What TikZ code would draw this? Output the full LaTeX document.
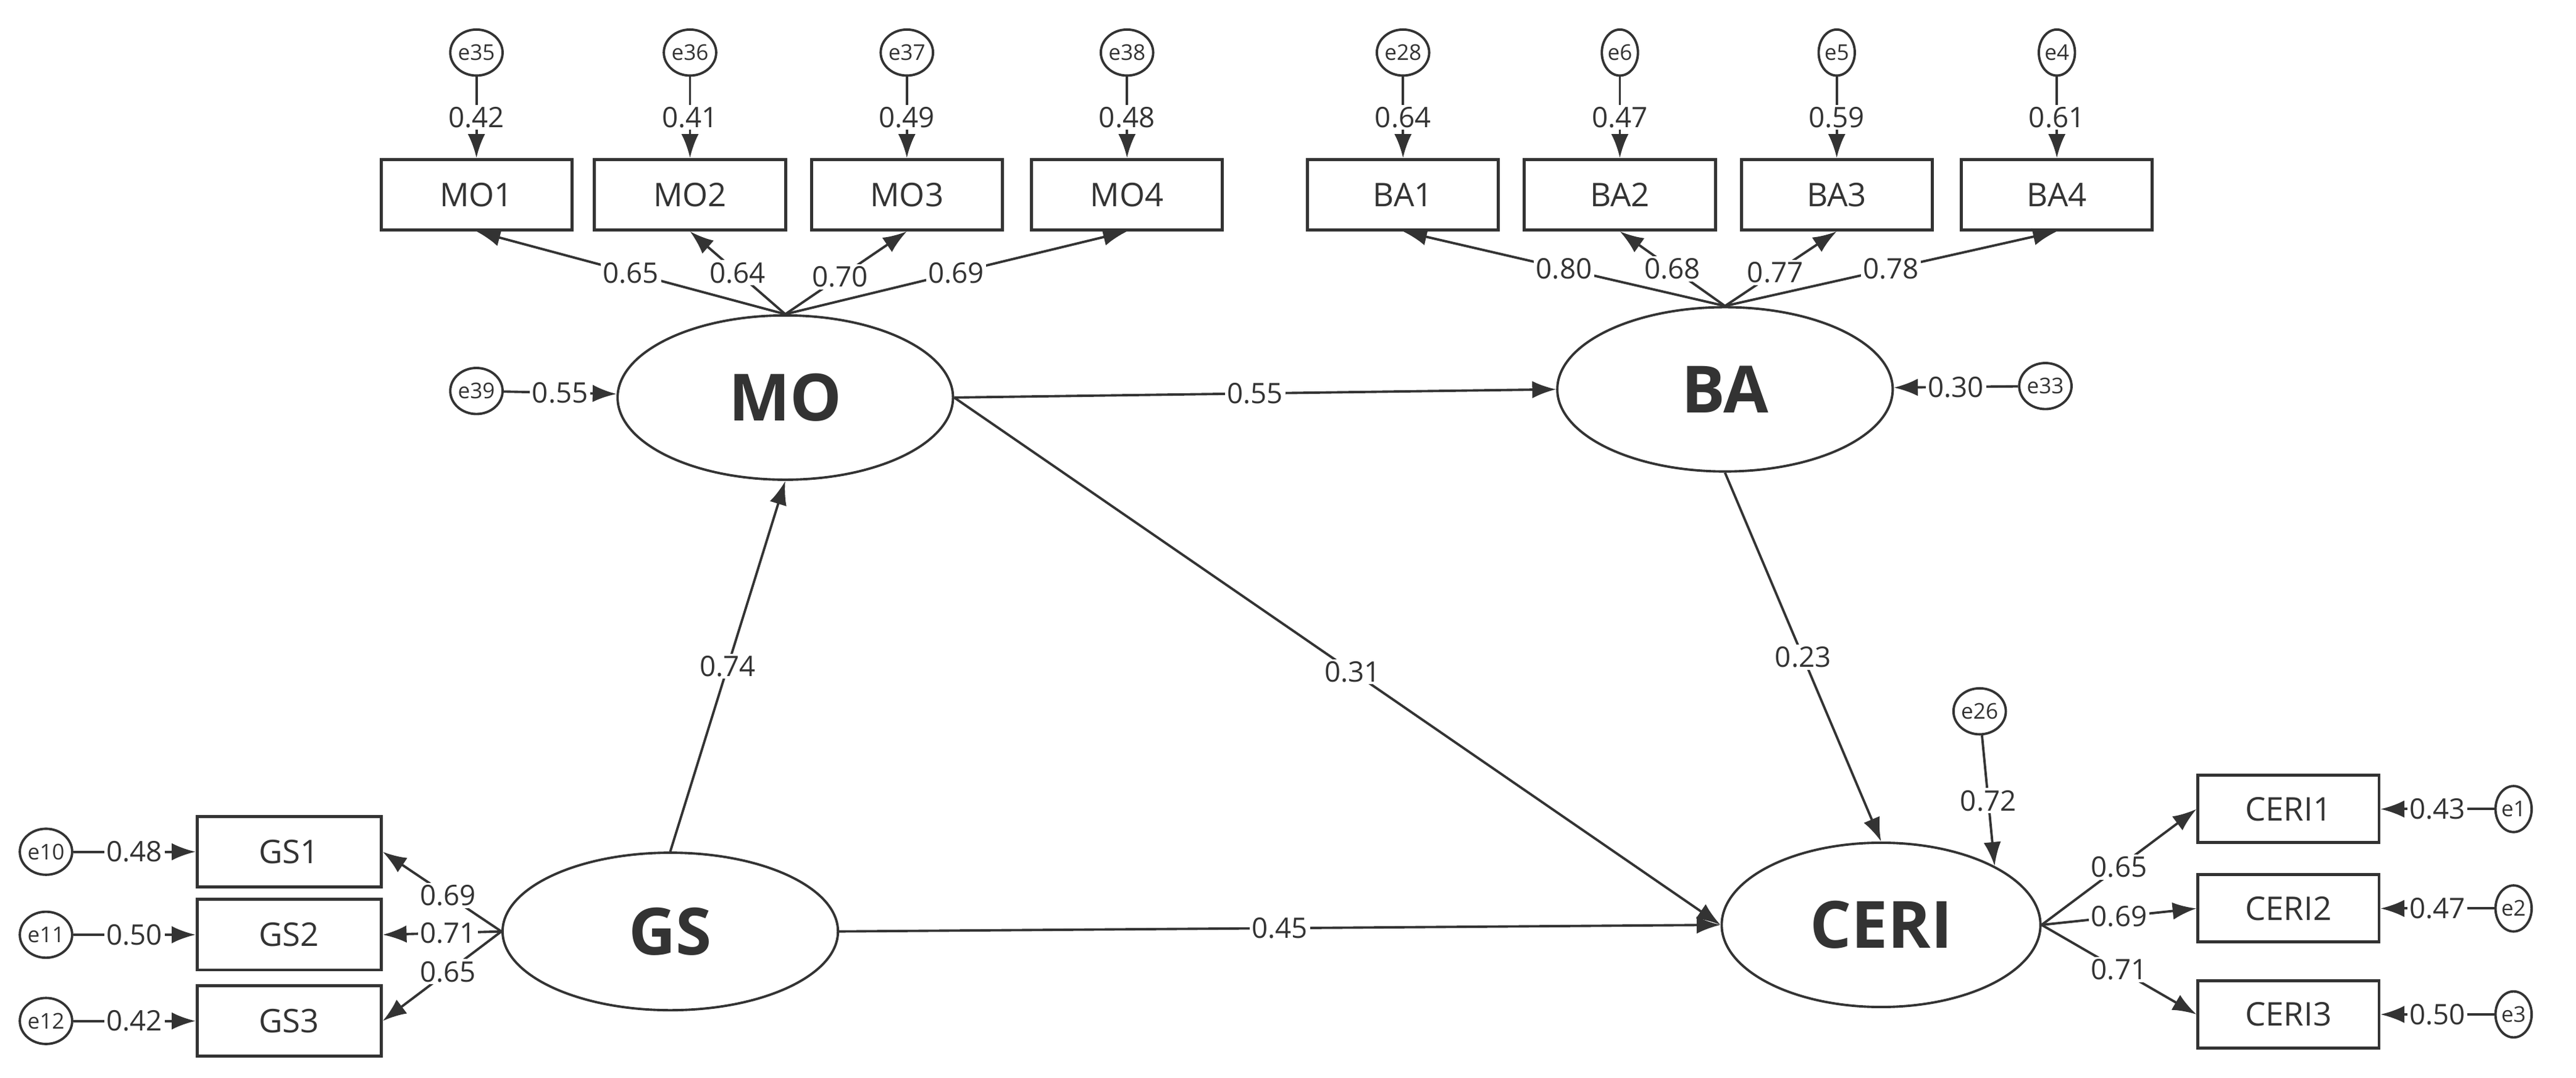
\documentclass[tikz,border=0pt]{standalone}
\usepackage{fontspec}
\setmainfont{Open Sans}
\usetikzlibrary{shapes.geometric,arrows.meta}
\definecolor{ink}{HTML}{333333}
\begin{document}
\begin{tikzpicture}[x=0.0266cm,y=-0.0266cm,
  ink/.style={draw=ink,line width=1.1pt},
  arr/.style={ink,-{Latex[length=11pt,width=8pt]}},
  lab/.style={fill=white,inner sep=1pt,text=ink,font=\fontsize{13}{13}\selectfont},
  err/.style={ellipse,ink,minimum width=0.585cm,minimum height=0.745cm,inner sep=0pt,text=ink,font=\fontsize{10}{10}\selectfont},
  box/.style={rectangle,ink,line width=1.4pt,minimum width=3.09cm,minimum height=1.14cm,text=ink,font=\fontsize{15}{15}\selectfont},
  lat/.style={ellipse,ink,minimum width=5.43cm,minimum height=2.66cm,inner sep=0pt,text=ink,font=\fontsize{30}{30}\selectfont\bfseries}]
\useasboundingbox (0,0) rectangle (1568,656);
% latent
\node[lat] (MO) at (478,242) {MO};
\node[lat] (BA) at (1050,237) {BA};
\node[lat,minimum height=2.55cm] (GS) at (408,567) {GS};
\node[lat,minimum width=5.16cm] (CERI) at (1145,563) {CERI};
% top indicators
\foreach \n/\x/\e/\v in {MO1/290/e35/0.42,MO2/420/e36/0.41,MO3/552/e37/0.49,MO4/686/e38/0.48,BA1/854/e28/0.64,BA2/986/e6/0.47,BA3/1118/e5/0.59,BA4/1252/e4/0.61}{
  \node[box] (\n) at (\x,118.5) {\n};
  \node[err] (\e) at (\x,32) {\e};
  \draw[arr] (\e) -- node[lab]{\v} (\n);
}
\draw[arr] (MO.north) -- node[lab,pos=0.5]{0.65} (MO1.south);
\draw[arr] (MO.north) -- node[lab,pos=0.5]{0.64} (MO2.south);
\draw[arr] (MO.north) -- node[lab,pos=0.45]{0.70} (MO3.south);
\draw[arr] (MO.north) -- node[lab,pos=0.5]{0.69} (MO4.south);
\draw[arr] (BA.north) -- node[lab,pos=0.5]{0.80} (BA1.south);
\draw[arr] (BA.north) -- node[lab,pos=0.5]{0.68} (BA2.south);
\draw[arr] (BA.north) -- node[lab,pos=0.45]{0.77} (BA3.south);
\draw[arr] (BA.north) -- node[lab,pos=0.5]{0.78} (BA4.south);
% GS indicators
\foreach \n/\y/\e/\v in {GS1/518.5/e10/0.48,GS2/569/e11/0.50,GS3/621.5/e12/0.42}{
  \node[box,minimum width=2.98cm] (\n) at (176,\y) {\n};
  \node[err] (\e) at (28,\y) {\e};
  \draw[arr] (\e) -- node[lab]{\v} (\n);
}
\draw[arr] (GS.west) -- node[lab,pos=0.45]{0.69} (GS1.east);
\draw[arr] (GS.west) -- node[lab,pos=0.45]{0.71} (GS2.east);
\draw[arr] (GS.west) -- node[lab,pos=0.45]{0.65} (GS3.east);
% CERI indicators
\foreach \n/\y/\e/\v in {CERI1/492.5/e1/0.43,CERI2/553/e2/0.47,CERI3/617.5/e3/0.50}{
  \node[box,minimum width=2.93cm,minimum height=1.09cm] (\n) at (1393,\y) {\n};
  \node[err] (\e) at (1530,\y) {\e};
  \draw[arr] (\e) -- node[lab]{\v} (\n);
}
\draw[arr] (CERI.east) -- node[lab,pos=0.5]{0.65} (CERI1.west);
\draw[arr] (CERI.east) -- node[lab,pos=0.5]{0.69} (CERI2.west);
\draw[arr] (CERI.east) -- node[lab,pos=0.5]{0.71} (CERI3.west);
% disturbances
\node[err] (e39) at (290,238) {e39};
\node[err] (e33) at (1245,235) {e33};
\node[err] (e26) at (1205,433) {e26};
\draw[arr] (e39) -- node[lab]{0.55} (MO);
\draw[arr] (e33) -- node[lab]{0.30} (BA);
\draw[arr] (e26) -- node[lab]{0.72} (CERI.north east);
% structural paths
\draw[arr] (MO.east) -- node[lab]{0.55} (BA.west);
\draw[arr] (MO.east) -- node[lab,pos=0.52]{0.31} (CERI.west);
\draw[arr] (BA.south) -- node[lab,pos=0.5]{0.23} (CERI.north);
\draw[arr] (GS.north) -- node[lab,pos=0.5]{0.74} (MO.south);
\draw[arr] (GS.east) -- node[lab]{0.45} (CERI.west);
\end{tikzpicture}
\end{document}
